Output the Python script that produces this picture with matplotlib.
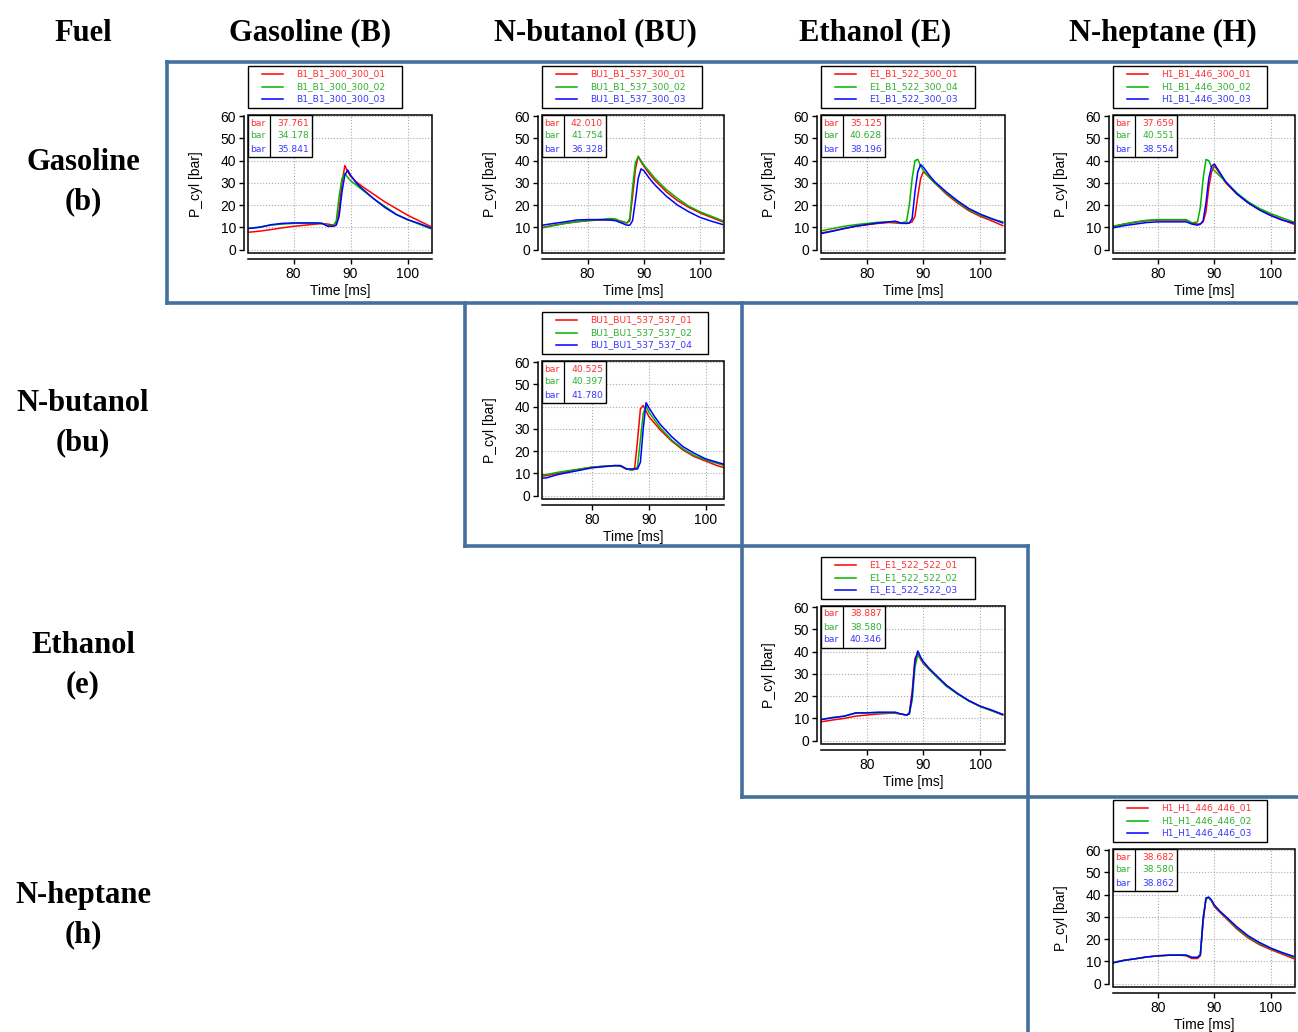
import matplotlib.pyplot as plt
from matplotlib.lines import Line2D
from matplotlib.patches import Rectangle

W, H = 1298, 1032

# time axis [ms], shared by every trace
t = [71, 72, 74, 76, 78, 80, 82, 84, 85, 86, 87, 87.5, 88, 88.5, 89, 89.5,
     90, 91, 92, 94, 96, 98, 100, 102, 104]

col_titles = ["Fuel", "Gasoline (B)", "N-butanol (BU)", "Ethanol (E)", "N-heptane (H)"]
row_titles = ["Gasoline\n(b)", "N-butanol\n(bu)", "Ethanol\n(e)", "N-heptane\n(h)"]

# --- B1 / B1
bb_labels = ["B1_B1_300_300_01", "B1_B1_300_300_02", "B1_B1_300_300_03"]
bb_peaks = ["37.761", "34.178", "35.841"]
bb_r = [7.5, 7.8, 8.3, 9.0, 9.8, 10.5, 11.0, 11.5, 11.7, 11.5, 11.0, 12.0, 18.0, 30.0, 37.8,
        35.0, 33.0, 30.5, 28.5, 25.0, 21.5, 18.5, 15.5, 13.0, 10.5]
bb_g = [9.3, 9.5, 10.2, 11.0, 11.5, 11.8, 12.0, 12.0, 11.8, 10.8, 10.8, 13.0, 24.0, 32.0, 34.2,
        32.5, 31.0, 29.0, 27.0, 23.0, 19.5, 16.0, 13.5, 11.5, 9.5]
bb_b = [9.3, 9.5, 10.0, 11.2, 11.8, 12.0, 12.0, 12.0, 11.8, 10.5, 10.5, 11.0, 15.0, 26.0, 33.5,
        35.8, 33.5, 30.0, 27.5, 23.0, 19.0, 15.8, 13.5, 11.8, 9.8]

# --- BU1 / B1
ub_labels = ["BU1_B1_537_300_01", "BU1_B1_537_300_02", "BU1_B1_537_300_03"]
ub_peaks = ["42.010", "41.754", "36.328"]
ub_r = [9.8, 10.0, 11.0, 11.8, 12.5, 13.0, 13.3, 13.5, 13.3, 12.8, 12.0, 13.0, 24.0, 36.0, 42.0,
        39.5, 37.5, 34.0, 31.0, 26.0, 22.0, 19.0, 16.5, 14.5, 12.5]
ub_g = [9.6, 9.8, 10.8, 11.8, 12.5, 13.0, 13.5, 14.0, 13.8, 12.5, 12.0, 14.0, 28.0, 39.0, 41.8,
        40.0, 38.0, 35.0, 32.0, 27.0, 23.0, 19.5, 17.0, 15.0, 13.0]
ub_b = [10.8, 11.0, 11.8, 12.5, 13.3, 13.5, 13.5, 13.3, 13.0, 12.0, 11.0, 11.0, 13.0, 22.0, 32.0,
        36.3, 35.5, 32.0, 29.0, 24.0, 20.0, 17.0, 14.5, 12.8, 11.3]

# --- E1 / B1
eb_labels = ["E1_B1_522_300_01", "E1_B1_522_300_04", "E1_B1_522_300_03"]
eb_peaks = ["35.125", "40.628", "38.196"]
eb_r = [7.3, 7.5, 8.5, 9.5, 10.5, 11.2, 11.8, 12.2, 12.0, 11.8, 11.8, 12.0, 12.5, 15.0, 24.0,
        32.0, 35.1, 32.5, 30.0, 25.0, 21.0, 17.5, 15.0, 13.0, 10.8]
eb_g = [8.3, 8.5, 9.5, 10.5, 11.2, 11.8, 12.3, 12.5, 12.5, 12.0, 12.5, 20.0, 32.0, 40.0, 40.6,
        37.5, 35.5, 32.5, 30.0, 25.5, 21.5, 18.0, 15.5, 13.8, 12.5]
eb_b = [7.1, 7.3, 8.3, 9.5, 10.5, 11.3, 12.0, 12.5, 12.8, 12.0, 11.8, 12.0, 14.0, 26.0, 35.0,
        38.2, 37.0, 33.5, 30.5, 26.0, 22.0, 18.5, 16.0, 14.0, 12.0]

# --- H1 / B1
hb_labels = ["H1_B1_446_300_01", "H1_B1_446_300_02", "H1_B1_446_300_03"]
hb_peaks = ["37.659", "40.551", "38.554"]
hb_r = [10.3, 10.5, 11.5, 12.3, 13.0, 13.3, 13.3, 13.3, 13.3, 12.0, 11.5, 11.5, 12.5, 17.0, 28.0,
        35.0, 37.7, 34.0, 30.0, 25.0, 21.0, 18.0, 15.5, 13.5, 11.5]
hb_g = [10.3, 10.5, 11.5, 12.5, 13.2, 13.5, 13.5, 13.5, 13.5, 12.0, 12.5, 19.0, 32.0, 40.5, 40.0,
        37.0, 35.5, 33.0, 30.5, 25.5, 21.5, 18.5, 16.2, 14.3, 12.5]
hb_b = [9.6, 9.8, 10.8, 11.5, 12.2, 12.5, 12.5, 12.5, 12.5, 11.5, 11.0, 11.5, 13.0, 21.0, 32.0,
        37.5, 38.5, 34.5, 30.5, 25.0, 21.0, 17.8, 15.3, 13.3, 12.0]

# --- BU1 / BU1
uu_labels = ["BU1_BU1_537_537_01", "BU1_BU1_537_537_02", "BU1_BU1_537_537_04"]
uu_peaks = ["40.525", "40.397", "41.780"]
uu_r = [8.8, 9.0, 10.0, 11.0, 12.0, 12.8, 13.2, 13.5, 13.5, 12.2, 11.5, 12.5, 25.0, 39.0, 40.5,
        38.0, 35.5, 32.5, 29.5, 24.5, 20.5, 17.5, 15.5, 13.5, 12.0]
uu_g = [9.3, 9.5, 10.5, 11.3, 12.0, 12.8, 13.2, 13.5, 13.2, 12.0, 11.5, 11.8, 13.0, 25.0, 37.0,
        40.4, 37.5, 34.0, 30.5, 25.0, 21.0, 18.0, 16.0, 14.5, 13.0]
uu_b = [7.8, 8.0, 9.5, 10.5, 11.5, 12.5, 13.0, 13.5, 13.5, 12.0, 12.0, 12.0, 12.0, 15.0, 30.0,
        41.8, 39.5, 35.5, 32.0, 26.5, 22.0, 19.0, 16.5, 15.0, 13.5]

# --- E1 / E1
ee_labels = ["E1_E1_522_522_01", "E1_E1_522_522_02", "E1_E1_522_522_03"]
ee_peaks = ["38.887", "38.580", "40.346"]
ee_r = [8.3, 8.5, 9.3, 10.0, 11.0, 11.5, 12.0, 12.3, 12.3, 12.0, 11.5, 12.5, 22.0, 37.0, 38.9,
        36.5, 34.5, 32.0, 29.5, 25.0, 21.0, 18.0, 15.5, 13.5, 11.5]
ee_g = [9.3, 9.5, 10.5, 11.0, 12.3, 12.5, 12.5, 12.5, 12.5, 12.0, 11.5, 12.0, 18.0, 33.0, 38.6,
        37.0, 35.0, 32.0, 29.5, 24.5, 21.0, 17.8, 15.3, 13.5, 11.8]
ee_b = [9.3, 9.5, 10.3, 11.0, 12.5, 12.5, 12.8, 12.8, 12.8, 12.0, 11.5, 12.0, 20.0, 36.0, 40.3,
        37.5, 35.5, 32.5, 30.0, 25.0, 21.3, 18.0, 15.5, 13.8, 11.8]

# --- H1 / H1
hh_labels = ["H1_H1_446_446_01", "H1_H1_446_446_02", "H1_H1_446_446_03"]
hh_peaks = ["38.682", "38.580", "38.862"]
hh_r = [9.3, 9.5, 10.5, 11.2, 12.0, 12.5, 12.8, 12.8, 12.5, 11.3, 11.3, 12.5, 28.0, 38.0, 38.7,
        37.0, 34.5, 32.0, 29.5, 24.5, 20.5, 17.5, 15.3, 13.3, 11.3]
hh_g = [9.3, 9.5, 10.5, 11.2, 12.0, 12.5, 12.8, 13.0, 12.8, 11.8, 11.8, 13.0, 30.0, 38.0, 38.6,
        37.2, 35.0, 32.3, 30.0, 25.0, 21.0, 18.0, 15.8, 13.8, 12.0]
hh_b = [9.1, 9.3, 10.5, 11.2, 12.0, 12.5, 12.8, 12.8, 12.8, 11.8, 11.8, 13.0, 29.0, 38.5, 38.9,
        37.5, 35.3, 32.5, 30.2, 25.5, 21.5, 18.5, 16.0, 14.0, 12.3]

line_cols = ["#ff0000", "#00b400", "#0000ff"]
text_cols = ["#ff3030", "#30b030", "#3838ff"]
frame_col = "#44709d"
sans = "Liberation Sans"
small = "DejaVu Sans"

# (left px, top px, width px, xlim, labels, peaks, traces)
panels = [
    (248, 115, 184, (72, 104.3), bb_labels, bb_peaks, [bb_r, bb_g, bb_b]),
    (542, 115, 182, (71.9, 104.25), ub_labels, ub_peaks, [ub_r, ub_g, ub_b]),
    (821, 115, 184, (71.9, 104.4), eb_labels, eb_peaks, [eb_r, eb_g, eb_b]),
    (1113, 115, 182, (72, 104.3), hb_labels, hb_peaks, [hb_r, hb_g, hb_b]),
    (542, 361, 182, (71.2, 103.2), uu_labels, uu_peaks, [uu_r, uu_g, uu_b]),
    (821, 606, 184, (71.9, 104.4), ee_labels, ee_peaks, [ee_r, ee_g, ee_b]),
    (1113, 849, 182, (72, 104.3), hh_labels, hh_peaks, [hh_r, hh_g, hh_b]),
]
AH = 138

fig = plt.figure(figsize=(W / 100, H / 100), dpi=100)

for left, top, w, xl, labels, peaks, traces in panels:
    ax = fig.add_axes([left / W, 1 - (top + AH) / H, w / W, AH / H])
    for p, c in zip(traces, line_cols):
        ax.plot(t, p, color=c, lw=1.1)
    ax.set_xlim(*xl)
    ax.set_ylim(-1.5, 60.5)
    ax.set_xticks([80, 90, 100])
    ax.set_yticks(range(0, 61, 10))
    ax.grid(True, color="#aaaaaa", linestyle=":", linewidth=0.8)
    ax.spines["top"].set_visible(False)
    ax.spines["right"].set_visible(False)
    ax.spines["left"].set_position(("outward", 3))
    ax.spines["bottom"].set_position(("outward", 4.5))
    ax.spines["left"].set_bounds(0, 60)
    for s in ("left", "bottom"):
        ax.spines[s].set_linewidth(1.1)
    ax.tick_params(direction="out", length=3.5, width=1, labelsize=10, pad=2)
    for lab in ax.get_xticklabels() + ax.get_yticklabels():
        lab.set_fontfamily(sans)
    ax.set_xlabel("Time [ms]", fontsize=10, family=sans, labelpad=2)
    ax.set_ylabel("P_cyl [bar]", fontsize=10, family=sans, labelpad=13)
    ax.add_patch(Rectangle((0, 0), 1, 1, transform=ax.transAxes, fill=False,
                           ec="black", lw=1.1, clip_on=False, zorder=5))

    # legend box above the axes (pixel offsets turned into axes fractions)
    lw_px = 56 + 6.1 * len(labels[0])
    ax.add_patch(Rectangle((0, 1 + 7 / AH), lw_px / w, 42 / AH, transform=ax.transAxes,
                           fill=False, ec="black", lw=1.0, clip_on=False))
    for i, (lab, c, tc) in enumerate(zip(labels, line_cols, text_cols)):
        yy = 1 + (41 - 12.5 * i) / AH
        ax.add_line(Line2D([14 / w, 35 / w], [yy, yy], transform=ax.transAxes,
                           color=c, lw=1.1, clip_on=False))
        ax.text(48 / w, yy, lab, transform=ax.transAxes, color=tc, fontsize=6.6,
                family=small, va="center", ha="left")

    # peak value table in the top-left corner
    ax.add_patch(Rectangle((0, 1 - 42 / AH), 64 / w, 42 / AH, transform=ax.transAxes,
                           fc="white", ec="black", lw=1.0, zorder=6))
    ax.add_line(Line2D([22 / w, 22 / w], [1 - 42 / AH, 1], transform=ax.transAxes,
                       color="black", lw=0.9, zorder=7))
    for i, (pk, tc) in enumerate(zip(peaks, text_cols)):
        yy = 1 - (8 + 13 * i) / AH
        ax.text(2 / w, yy, "bar", transform=ax.transAxes, color=tc, fontsize=6.6,
                family=small, va="center", ha="left", zorder=8)
        ax.text(61 / w, yy, pk, transform=ax.transAxes, color=tc, fontsize=6.6,
                family=small, va="center", ha="right", zorder=8)

# headers
serif = "Liberation Serif"
col_x = [83, 310, 595, 875, 1163]
for x, s in zip(col_x, col_titles):
    fig.text(x / W, 1 - 33 / H, s, ha="center", va="center", fontsize=22,
             fontweight="bold", family=serif)
row_y = [182, 423, 665, 915]
for y, s in zip(row_y, row_titles):
    fig.text(83 / W, 1 - y / H, s, ha="center", va="center", fontsize=22,
             fontweight="bold", family=serif, linespacing=1.45)

# blue frame staircase
segs = [
    ((167, 62), (1298, 62)),
    ((167, 62), (167, 303)),
    ((167, 303), (1298, 303)),
    ((465, 303), (465, 546)),
    ((465, 546), (1028, 546)),
    ((742, 303), (742, 797)),
    ((742, 797), (1298, 797)),
    ((1028, 546), (1028, 1032)),
]
for (x0, y0), (x1, y1) in segs:
    fig.add_artist(Line2D([x0 / W, x1 / W], [1 - y0 / H, 1 - y1 / H],
                          transform=fig.transFigure, color=frame_col, lw=2.6,
                          solid_capstyle="projecting"))

fig.savefig("out.png", dpi=100)
